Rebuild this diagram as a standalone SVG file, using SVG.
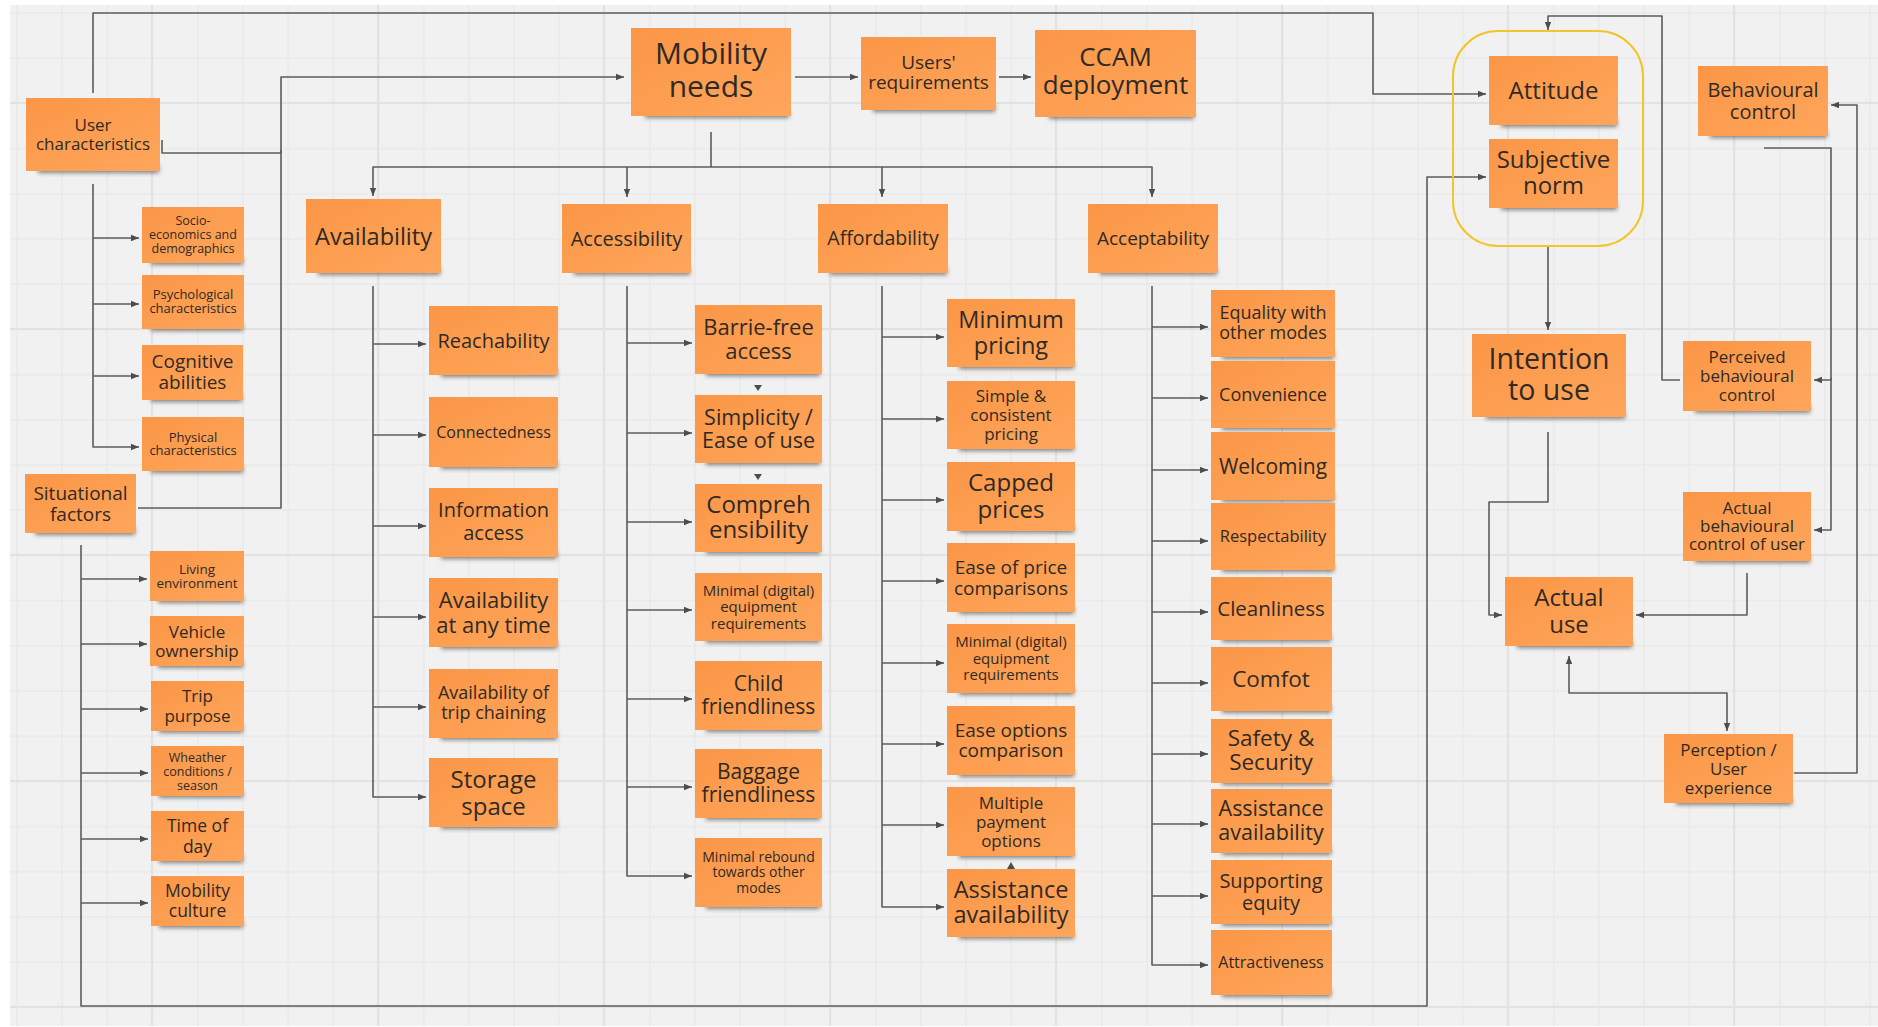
<svg xmlns="http://www.w3.org/2000/svg" width="1878" height="1027" viewBox="0 0 1878 1027">
  <style>
    .note{fill:url(#noteFill)}
    .sh{fill:#2b2b2b;opacity:.55;filter:url(#soft)}
    text{font-family:"Open Sans","Noto Sans","Liberation Sans",sans-serif;fill:#2f2a25;text-anchor:middle}
    .wire{fill:none;stroke:#5c5c5c;stroke-width:1.6;stroke-linejoin:round}
    .to{marker-end:url(#ah)}
    .both{marker-start:url(#ah);marker-end:url(#ah)}
    .tip{fill:#4d4d4d}
  </style>
  <defs>
    <linearGradient id="noteFill" x1="0" y1="0" x2="1" y2="1">
      <stop offset="0" stop-color="#fb9646"/>
      <stop offset="1" stop-color="#fea65c"/>
    </linearGradient>
    <filter id="soft" x="-20%" y="-100%" width="140%" height="300%">
      <feGaussianBlur stdDeviation="2.2"/>
    </filter>
    <marker id="ah" viewBox="0 0 10 10" refX="10" refY="5" markerWidth="8" markerHeight="8" markerUnits="userSpaceOnUse" orient="auto-start-reverse">
      <path d="M0,1 L10,5 L0,9 z" fill="#4d4d4d"/>
    </marker>
    <pattern id="gridMinor" patternUnits="userSpaceOnUse" x="16" y="12" width="45.2" height="45.2">
      <path d="M1,0 V45.2 M0,1 H45.2" stroke="#e9e9e9" stroke-width="1.5" fill="none"/>
    </pattern>
    <pattern id="gridMajor" patternUnits="userSpaceOnUse" x="151" y="102" width="226" height="226">
      <path d="M1,0 V226 M0,1 H226" stroke="#e2e2e2" stroke-width="2" fill="none"/>
    </pattern>
  </defs>

  <!-- board background -->
  <rect width="1878" height="1027" fill="#ffffff"/>
  <rect x="10" y="5" width="1868" height="1021" fill="#f1f1f1"/>
  <rect x="10" y="5" width="1868" height="1021" fill="url(#gridMinor)"/>
  <rect x="10" y="5" width="1868" height="1021" fill="url(#gridMajor)"/>

  <!-- connectors -->
  <g id="connectors">
    <!-- user characteristics -->
    <path class="wire to" d="M93,93 V13 H1373 V94 H1486"/>
    <path class="wire to" d="M162,140 V153 H281 V77 H624"/>
    <path class="wire" d="M138,508 H281 V150"/>
    <path class="wire to" d="M93,184 V447 H139"/>
    <path class="wire to" d="M93,238 H139"/>
    <path class="wire to" d="M93,304 H139"/>
    <path class="wire to" d="M93,376 H139"/>
    <!-- situational factors -->
    <path class="wire to" d="M81,545 V1006 H1427 V177 H1486"/>
    <path class="wire to" d="M81,579 H147"/>
    <path class="wire to" d="M81,644 H147"/>
    <path class="wire to" d="M81,709 H148"/>
    <path class="wire to" d="M81,773 H148"/>
    <path class="wire to" d="M81,839 H148"/>
    <path class="wire to" d="M81,903 H148"/>
    <!-- top chain -->
    <path class="wire to" d="M795,77 H858"/>
    <path class="wire to" d="M999,77 H1031"/>
    <!-- mobility needs to the four dimensions -->
    <path class="wire" d="M711,132 V167"/>
    <path class="wire to" d="M711,167 H373 V196"/>
    <path class="wire to" d="M711,167 H1152 V197"/>
    <path class="wire to" d="M627,167 V197"/>
    <path class="wire to" d="M882,167 V197"/>
    <!-- availability -->
    <path class="wire to" d="M373,286 V797 H426"/>
    <path class="wire to" d="M373,344 H426"/>
    <path class="wire to" d="M373,435 H426"/>
    <path class="wire to" d="M373,526 H426"/>
    <path class="wire to" d="M373,617 H426"/>
    <path class="wire to" d="M373,707 H426"/>
    <!-- accessibility -->
    <path class="wire to" d="M627,286 V876 H692"/>
    <path class="wire to" d="M627,343 H692"/>
    <path class="wire to" d="M627,433 H692"/>
    <path class="wire to" d="M627,522 H692"/>
    <path class="wire to" d="M627,610 H692"/>
    <path class="wire to" d="M627,699 H692"/>
    <path class="wire to" d="M627,787 H692"/>
    <path class="tip" d="M754,385 L762,385 L758,391 z"/>
    <path class="tip" d="M754,474 L762,474 L758,480 z"/>
    <!-- affordability -->
    <path class="wire to" d="M882,286 V907 H944"/>
    <path class="wire to" d="M882,337 H944"/>
    <path class="wire to" d="M882,419 H944"/>
    <path class="wire to" d="M882,500 H944"/>
    <path class="wire to" d="M882,581 H944"/>
    <path class="wire to" d="M882,663 H944"/>
    <path class="wire to" d="M882,744 H944"/>
    <path class="wire to" d="M882,825 H944"/>
    <path class="tip" d="M1007,869 L1015,869 L1011,862 z"/>
    <!-- acceptability -->
    <path class="wire to" d="M1152,286 V965 H1208"/>
    <path class="wire to" d="M1152,327 H1208"/>
    <path class="wire to" d="M1152,398 H1208"/>
    <path class="wire to" d="M1152,470 H1208"/>
    <path class="wire to" d="M1152,541 H1208"/>
    <path class="wire to" d="M1152,612 H1208"/>
    <path class="wire to" d="M1152,683 H1208"/>
    <path class="wire to" d="M1152,754 H1208"/>
    <path class="wire to" d="M1152,824 H1208"/>
    <path class="wire to" d="M1152,896 H1208"/>
    <!-- behaviour model -->
    <path class="wire to" d="M1680,380 H1662 V16 H1548 V30"/>
    <path class="wire to" d="M1548,246 V330"/>
    <path class="wire to" d="M1548,432 V502 H1489 V615 H1502"/>
    <path class="wire to" d="M1764,148 H1831 V380 H1814"/>
    <path class="wire to" d="M1831,378 V530 H1814"/>
    <path class="wire to" d="M1747,573 V615 H1636"/>
    <path class="wire both" d="M1569,656 V693 H1727 V731"/>
    <path class="wire to" d="M1794,773 H1857 V105 H1831"/>
  </g>

  <!-- frame around attitude and subjective norm -->
  <g id="tpb-frame">
    <rect x="1453" y="31" width="190" height="215" rx="45" ry="45" fill="none" stroke="#f2c62a" stroke-width="2"/>
  </g>

  <!-- user characteristics -->
  <g id="user-characteristics"><rect class="sh" x="38" y="165" width="121" height="8"/><rect class="note" x="26" y="98" width="134" height="73"/><text font-size="17"><tspan x="93" y="131">User</tspan><tspan x="93" y="150">characteristics</tspan></text></g>
  <g id="situational-factors"><rect class="sh" x="35" y="527" width="100" height="8"/><rect class="note" x="25" y="474" width="111" height="59"/><text font-size="19"><tspan x="80.5" y="500">Situational</tspan><tspan x="80.5" y="521">factors</tspan></text></g>
  <g id="socio-economics"><rect class="sh" x="151" y="257" width="92" height="8"/><rect class="note" x="142" y="207" width="102" height="56"/><text font-size="12.5"><tspan x="193" y="225">Socio-</tspan><tspan x="193" y="239">economics and</tspan><tspan x="193" y="253">demographics</tspan></text></g>
  <g id="psychological"><rect class="sh" x="151" y="323" width="92" height="8"/><rect class="note" x="142" y="275" width="102" height="54"/><text font-size="13"><tspan x="193" y="299">Psychological</tspan><tspan x="193" y="313">characteristics</tspan></text></g>
  <g id="cognitive"><rect class="sh" x="151" y="394" width="91" height="8"/><rect class="note" x="142" y="345" width="101" height="55"/><text font-size="19"><tspan x="192.5" y="368">Cognitive</tspan><tspan x="192.5" y="389">abilities</tspan></text></g>
  <g id="physical"><rect class="sh" x="151" y="465" width="92" height="8"/><rect class="note" x="142" y="417" width="102" height="54"/><text font-size="13"><tspan x="193" y="441.5">Physical</tspan><tspan x="193" y="455">characteristics</tspan></text></g>

  <!-- situational factors -->
  <g id="living"><rect class="sh" x="158" y="595" width="85" height="8"/><rect class="note" x="150" y="551" width="94" height="50"/><text font-size="13.5"><tspan x="197" y="573.5">Living</tspan><tspan x="197" y="587.5">environment</tspan></text></g>
  <g id="vehicle"><rect class="sh" x="158" y="660" width="85" height="8"/><rect class="note" x="150" y="616" width="94" height="50"/><text font-size="17"><tspan x="197" y="637.5">Vehicle</tspan><tspan x="197" y="656.5">ownership</tspan></text></g>
  <g id="trip-purpose"><rect class="sh" x="159" y="725" width="84" height="8"/><rect class="note" x="151" y="681" width="93" height="50"/><text font-size="17"><tspan x="197.5" y="702">Trip</tspan><tspan x="197.5" y="722">purpose</tspan></text></g>
  <g id="weather"><rect class="sh" x="159" y="790" width="84" height="8"/><rect class="note" x="151" y="746" width="93" height="50"/><text font-size="12.5"><tspan x="197.5" y="761.5">Wheather</tspan><tspan x="197.5" y="775.5">conditions /</tspan><tspan x="197.5" y="789.5">season</tspan></text></g>
  <g id="time-of-day"><rect class="sh" x="159" y="855" width="84" height="8"/><rect class="note" x="151" y="811" width="93" height="50"/><text font-size="17.5"><tspan x="197.5" y="832">Time of</tspan><tspan x="197.5" y="852.5">day</tspan></text></g>
  <g id="mobility-culture"><rect class="sh" x="159" y="920" width="84" height="8"/><rect class="note" x="151" y="876" width="93" height="50"/><text font-size="17.5"><tspan x="197.5" y="897">Mobility</tspan><tspan x="197.5" y="916.5">culture</tspan></text></g>

  <!-- top row -->
  <g id="mobility-needs"><rect class="sh" x="645" y="110" width="144" height="8"/><rect class="note" x="631" y="28" width="160" height="88"/><text font-size="30"><tspan x="711" y="63.5">Mobility</tspan><tspan x="711" y="97">needs</tspan></text></g>
  <g id="users-requirements"><rect class="sh" x="873" y="104" width="122" height="8"/><rect class="note" x="861" y="37" width="135" height="73"/><text font-size="19"><tspan x="928.5" y="68.5">Users'</tspan><tspan x="928.5" y="89">requirements</tspan></text></g>
  <g id="ccam-deployment"><rect class="sh" x="1049" y="111" width="145" height="8"/><rect class="note" x="1035" y="30" width="161" height="87"/><text font-size="26"><tspan x="1115.5" y="65.5">CCAM</tspan><tspan x="1115.5" y="94">deployment</tspan></text></g>

  <!-- dimensions -->
  <g id="availability"><rect class="sh" x="318" y="267" width="122" height="8"/><rect class="note" x="306" y="199" width="135" height="74"/><text font-size="23.5"><tspan x="373.5" y="244.5">Availability</tspan></text></g>
  <g id="accessibility"><rect class="sh" x="574" y="267" width="116" height="8"/><rect class="note" x="562" y="204" width="129" height="69"/><text font-size="20"><tspan x="626.5" y="245.5">Accessibility</tspan></text></g>
  <g id="affordability"><rect class="sh" x="830" y="267" width="117" height="8"/><rect class="note" x="818" y="204" width="130" height="69"/><text font-size="19.5"><tspan x="883" y="245">Affordability</tspan></text></g>
  <g id="acceptability"><rect class="sh" x="1100" y="267" width="117" height="8"/><rect class="note" x="1088" y="204" width="130" height="69"/><text font-size="19"><tspan x="1153" y="245">Acceptability</tspan></text></g>

  <!-- availability items -->
  <g id="reachability"><rect class="sh" x="441" y="369" width="116" height="8"/><rect class="note" x="429" y="306" width="129" height="69"/><text font-size="20"><tspan x="493.5" y="347.5">Reachability</tspan></text></g>
  <g id="connectedness"><rect class="sh" x="441" y="461" width="116" height="8"/><rect class="note" x="429" y="397" width="129" height="70"/><text font-size="16"><tspan x="493.5" y="437.5">Connectedness</tspan></text></g>
  <g id="information-access"><rect class="sh" x="441" y="551" width="116" height="8"/><rect class="note" x="429" y="488" width="129" height="69"/><text font-size="20"><tspan x="493.5" y="517">Information</tspan><tspan x="493.5" y="540">access</tspan></text></g>
  <g id="availability-any-time"><rect class="sh" x="441" y="641" width="116" height="8"/><rect class="note" x="429" y="578" width="129" height="69"/><text font-size="22"><tspan x="493.5" y="607.5">Availability</tspan><tspan x="493.5" y="632.5">at any time</tspan></text></g>
  <g id="trip-chaining"><rect class="sh" x="441" y="732" width="116" height="8"/><rect class="note" x="429" y="669" width="129" height="69"/><text font-size="18"><tspan x="493.5" y="698.5">Availability of</tspan><tspan x="493.5" y="719">trip chaining</tspan></text></g>
  <g id="storage-space"><rect class="sh" x="441" y="821" width="116" height="8"/><rect class="note" x="429" y="758" width="129" height="69"/><text font-size="24"><tspan x="493.5" y="787.5">Storage</tspan><tspan x="493.5" y="814.5">space</tspan></text></g>

  <!-- accessibility items -->
  <g id="barrier-free"><rect class="sh" x="706" y="368" width="114" height="8"/><rect class="note" x="695" y="305" width="127" height="69"/><text font-size="22"><tspan x="758.5" y="335">Barrie-free</tspan><tspan x="758.5" y="358.5">access</tspan></text></g>
  <g id="simplicity"><rect class="sh" x="706" y="457" width="114" height="8"/><rect class="note" x="695" y="395" width="127" height="68"/><text font-size="21.5"><tspan x="758.5" y="424.5">Simplicity /</tspan><tspan x="758.5" y="448">Ease of use</tspan></text></g>
  <g id="comprehensibility"><rect class="sh" x="706" y="546" width="114" height="8"/><rect class="note" x="695" y="484" width="127" height="68"/><text font-size="24"><tspan x="758.5" y="512.5">Compreh</tspan><tspan x="758.5" y="537.5">ensibility</tspan></text></g>
  <g id="digital-equipment-access"><rect class="sh" x="706" y="635" width="114" height="8"/><rect class="note" x="695" y="573" width="127" height="68"/><text font-size="15"><tspan x="758.5" y="595.5">Minimal (digital)</tspan><tspan x="758.5" y="612">equipment</tspan><tspan x="758.5" y="628.5">requirements</tspan></text></g>
  <g id="child-friendliness"><rect class="sh" x="706" y="724" width="114" height="8"/><rect class="note" x="695" y="661" width="127" height="69"/><text font-size="21"><tspan x="758.5" y="690.5">Child</tspan><tspan x="758.5" y="714">friendliness</tspan></text></g>
  <g id="baggage-friendliness"><rect class="sh" x="706" y="812" width="114" height="8"/><rect class="note" x="695" y="749" width="127" height="69"/><text font-size="21"><tspan x="758.5" y="778.5">Baggage</tspan><tspan x="758.5" y="802">friendliness</tspan></text></g>
  <g id="minimal-rebound"><rect class="sh" x="706" y="901" width="114" height="8"/><rect class="note" x="695" y="838" width="127" height="69"/><text font-size="14"><tspan x="758.5" y="861.5">Minimal rebound</tspan><tspan x="758.5" y="877">towards other</tspan><tspan x="758.5" y="892.5">modes</tspan></text></g>

  <!-- affordability items -->
  <g id="minimum-pricing"><rect class="sh" x="959" y="361" width="115" height="8"/><rect class="note" x="947" y="299" width="128" height="68"/><text font-size="23.5"><tspan x="1011" y="328">Minimum</tspan><tspan x="1011" y="353.5">pricing</tspan></text></g>
  <g id="simple-pricing"><rect class="sh" x="959" y="443" width="115" height="8"/><rect class="note" x="947" y="381" width="128" height="68"/><text font-size="17"><tspan x="1011" y="402">Simple &amp;</tspan><tspan x="1011" y="421">consistent</tspan><tspan x="1011" y="440">pricing</tspan></text></g>
  <g id="capped-prices"><rect class="sh" x="959" y="525" width="115" height="8"/><rect class="note" x="947" y="462" width="128" height="69"/><text font-size="24"><tspan x="1011" y="490.5">Capped</tspan><tspan x="1011" y="518">prices</tspan></text></g>
  <g id="price-comparisons"><rect class="sh" x="959" y="606" width="115" height="8"/><rect class="note" x="947" y="543" width="128" height="69"/><text font-size="19"><tspan x="1011" y="573.5">Ease of price</tspan><tspan x="1011" y="594.5">comparisons</tspan></text></g>
  <g id="digital-equipment-afford"><rect class="sh" x="959" y="687" width="115" height="8"/><rect class="note" x="947" y="624" width="128" height="69"/><text font-size="15"><tspan x="1011" y="647">Minimal (digital)</tspan><tspan x="1011" y="663.5">equipment</tspan><tspan x="1011" y="680">requirements</tspan></text></g>
  <g id="options-comparison"><rect class="sh" x="959" y="769" width="115" height="8"/><rect class="note" x="947" y="706" width="128" height="69"/><text font-size="19"><tspan x="1011" y="737">Ease options</tspan><tspan x="1011" y="757">comparison</tspan></text></g>
  <g id="payment-options"><rect class="sh" x="959" y="850" width="115" height="8"/><rect class="note" x="947" y="787" width="128" height="69"/><text font-size="17"><tspan x="1011" y="808.5">Multiple</tspan><tspan x="1011" y="827.5">payment</tspan><tspan x="1011" y="846.5">options</tspan></text></g>
  <g id="assistance-afford"><rect class="sh" x="959" y="931" width="115" height="8"/><rect class="note" x="947" y="869" width="128" height="68"/><text font-size="23.5"><tspan x="1011" y="897.5">Assistance</tspan><tspan x="1011" y="922.5">availability</tspan></text></g>

  <!-- acceptability items -->
  <g id="equality"><rect class="sh" x="1222" y="351" width="112" height="8"/><rect class="note" x="1211" y="290" width="124" height="67"/><text font-size="18"><tspan x="1273" y="318.5">Equality with</tspan><tspan x="1273" y="338.5">other modes</tspan></text></g>
  <g id="convenience"><rect class="sh" x="1222" y="422" width="112" height="8"/><rect class="note" x="1211" y="361" width="124" height="67"/><text font-size="18"><tspan x="1273" y="400.5">Convenience</tspan></text></g>
  <g id="welcoming"><rect class="sh" x="1222" y="494" width="112" height="8"/><rect class="note" x="1211" y="432" width="124" height="68"/><text font-size="21"><tspan x="1273" y="473.5">Welcoming</tspan></text></g>
  <g id="respectability"><rect class="sh" x="1222" y="564" width="112" height="8"/><rect class="note" x="1211" y="503" width="124" height="67"/><text font-size="16.5"><tspan x="1273" y="542">Respectability</tspan></text></g>
  <g id="cleanliness"><rect class="sh" x="1222" y="634" width="109" height="8"/><rect class="note" x="1211" y="577" width="121" height="63"/><text font-size="20.5"><tspan x="1271" y="615.5">Cleanliness</tspan></text></g>
  <g id="comfot"><rect class="sh" x="1222" y="705" width="109" height="8"/><rect class="note" x="1211" y="647" width="121" height="64"/><text font-size="22.5"><tspan x="1271" y="687">Comfot</tspan></text></g>
  <g id="safety-security"><rect class="sh" x="1222" y="777" width="109" height="8"/><rect class="note" x="1211" y="719" width="121" height="64"/><text font-size="22.5"><tspan x="1271" y="745.5">Safety &amp;</tspan><tspan x="1271" y="770">Security</tspan></text></g>
  <g id="assistance-accept"><rect class="sh" x="1222" y="847" width="109" height="8"/><rect class="note" x="1211" y="789" width="121" height="64"/><text font-size="21.5"><tspan x="1271" y="816">Assistance</tspan><tspan x="1271" y="840">availability</tspan></text></g>
  <g id="supporting-equity"><rect class="sh" x="1222" y="918" width="109" height="8"/><rect class="note" x="1211" y="860" width="121" height="64"/><text font-size="20"><tspan x="1271" y="888">Supporting</tspan><tspan x="1271" y="909.5">equity</tspan></text></g>
  <g id="attractiveness"><rect class="sh" x="1222" y="989" width="109" height="8"/><rect class="note" x="1211" y="930" width="121" height="65"/><text font-size="16"><tspan x="1271" y="967.5">Attractiveness</tspan></text></g>

  <!-- behaviour model -->
  <g id="attitude"><rect class="sh" x="1501" y="119" width="116" height="8"/><rect class="note" x="1489" y="56" width="129" height="69"/><text font-size="24"><tspan x="1553.5" y="98.5">Attitude</tspan></text></g>
  <g id="subjective-norm"><rect class="sh" x="1501" y="202" width="116" height="8"/><rect class="note" x="1489" y="139" width="129" height="69"/><text font-size="24"><tspan x="1553.5" y="167.5">Subjective</tspan><tspan x="1553.5" y="194">norm</tspan></text></g>
  <g id="intention-to-use"><rect class="sh" x="1486" y="411" width="139" height="8"/><rect class="note" x="1472" y="334" width="154" height="83"/><text font-size="28.5"><tspan x="1549" y="368.5">Intention</tspan><tspan x="1549" y="400">to use</tspan></text></g>
  <g id="actual-use"><rect class="sh" x="1517" y="640" width="115" height="8"/><rect class="note" x="1505" y="577" width="128" height="69"/><text font-size="24"><tspan x="1569" y="605.5">Actual</tspan><tspan x="1569" y="633">use</tspan></text></g>
  <g id="behavioural-control"><rect class="sh" x="1710" y="130" width="117" height="8"/><rect class="note" x="1698" y="66" width="130" height="70"/><text font-size="20"><tspan x="1763" y="97">Behavioural</tspan><tspan x="1763" y="119">control</tspan></text></g>
  <g id="perceived-control"><rect class="sh" x="1695" y="405" width="115" height="8"/><rect class="note" x="1683" y="341" width="128" height="70"/><text font-size="17"><tspan x="1747" y="363">Perceived</tspan><tspan x="1747" y="382">behavioural</tspan><tspan x="1747" y="401">control</tspan></text></g>
  <g id="actual-control"><rect class="sh" x="1695" y="555" width="115" height="8"/><rect class="note" x="1683" y="492" width="128" height="69"/><text font-size="17"><tspan x="1747" y="513.5">Actual</tspan><tspan x="1747" y="531.5">behavioural</tspan><tspan x="1747" y="549.5">control of user</tspan></text></g>
  <g id="perception"><rect class="sh" x="1676" y="797" width="116" height="8"/><rect class="note" x="1664" y="734" width="129" height="69"/><text font-size="17"><tspan x="1728.5" y="755.5">Perception /</tspan><tspan x="1728.5" y="775">User</tspan><tspan x="1728.5" y="794">experience</tspan></text></g>
</svg>
